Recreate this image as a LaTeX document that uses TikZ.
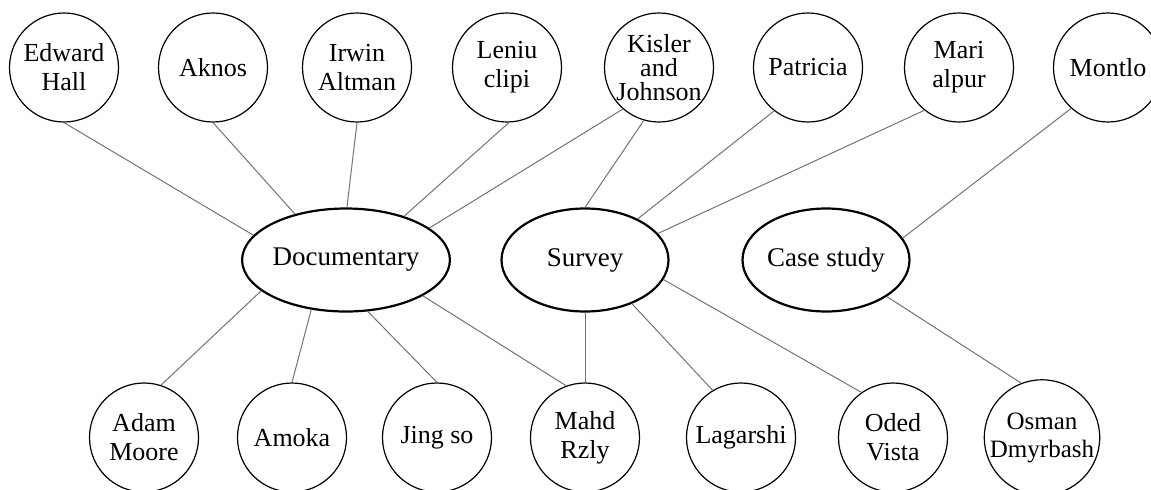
\documentclass[tikz,border=0pt]{standalone}
\usepackage{fontspec}
\setmainfont{Liberation Serif}
\usetikzlibrary{shapes.geometric}
\begin{document}
\begin{tikzpicture}[x=0.5pt,y=-0.5pt,
  person/.style={circle,draw=black,line width=0.6pt,minimum size=54.5pt,inner sep=0pt,align=center,font=\fontsize{13}{14.5}\selectfont},
  method/.style={ellipse,draw=black,line width=1.1pt,minimum width=83.5pt,minimum height=51.5pt,inner sep=0pt,font=\fontsize{13.5}{15}\selectfont},
  link/.style={draw=black!55,line width=0.5pt}]
\clip (0,0) rectangle (1151,489);
% top row
\node[person] (eh) at (64,67.5) {Edward\\Hall};
\node[person] (ak) at (213,67.5) {Aknos};
\node[person] (ia) at (357,67.5) {Irwin\\Altman};
\node[person] (lc) at (507,67.5) {Leniu\\clipi};
\node[person,font=\fontsize{13}{12}\selectfont] (kj) at (659,67.5) {Kisler\\and\\Johnson};
\node[person] (pa) at (808,67.5) {Patricia};
\node[person] (ma) at (959,67.5) {Mari\\alpur};
\node[person] (mo) at (1108,67.5) {Montlo};
% methods
\node[method] (doc) at (346,260) {Documentary};
\node[method] (sv) at (585,260) {Survey};
\node[method] (cs) at (826,260) {Case study};
% bottom row
\node[person] (adm) at (144,437.5) {Adam\\Moore};
\node[person] (amo) at (292,437.5) {Amoka};
\node[person] (jin) at (437,437.5) {Jing so};
\node[person] (mah) at (585,437.5) {Mahd\\Rzly};
\node[person] (lag) at (741,437.5) {Lagarshi};
\node[person] (ode) at (893,437.5) {Oded\\Vista};
\node[person,font=\fontsize{12.5}{14}\selectfont] (osm) at (1042,437.5) {Osman\\Dmyrbash};
% connectors top
\draw[link] (eh.south) -- (doc.165.8);
\draw[link] (ak.south) -- (doc.138.8);
\draw[link] (ia.south) -- (doc.89);
\draw[link] (lc.272) -- (doc.37);
\draw[link] (kj.229) -- (doc.21.5);
\draw[link] (kj.254.5) -- (sv.90);
\draw[link] (pa.232.6) -- (sv.38.4);
\draw[link] (ma.231.8) -- (sv.20);
\draw[link] (mo.228.4) -- (cs.16.4);
% connectors bottom
\draw[link] (doc.200) -- (adm.72.4);
\draw[link] (doc.235.5) -- (amo.north);
\draw[link] (doc.293.7) -- (jin.north);
\draw[link] (doc.335) -- (mah.110.9);
\draw[link] (sv.south) -- (mah.north);
\draw[link] (sv.317) -- (lag.121);
\draw[link] (sv.346.6) -- (ode.125);
\draw[link] (cs.329.6) -- (osm.111);
\end{tikzpicture}
\end{document}
